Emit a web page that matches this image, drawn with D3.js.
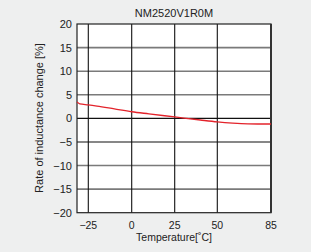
<!DOCTYPE html>
<html>
<head>
<meta charset="utf-8">
<script src="https://cdn.jsdelivr.net/npm/d3@7"></script>
<style>
  body { margin: 0; background: #eeefef; }
  text { font-family: "Liberation Sans", Arial, sans-serif; fill: #222; }
</style>
</head>
<body>
<div id="chart"></div>
<script>
// chart data
var chartTitle = "NM2520V1R0M"
var temps = [-31, -29.5, -25, -20, -10, 0, 10, 25, 40, 50, 60, 70, 85]
var change = [3.5, 3.05, 2.85, 2.6, 2.0, 1.4, 0.95, 0.3, -0.35, -0.75, -1.0, -1.15, -1.2]
var xTicks = [-25, 0, 25, 50, 85]
var xStops = [-31, -25, 0, 25, 50, 85]   // axis is not evenly spaced in the original
var yTicks = [-20, -15, -10, -5, 0, 5, 10, 15, 20]
var grayRows = [15, 10, 5, -10, -15]

var W = 311, H = 252

var svg = d3.select("#chart").append("svg")
    .attr("width", W)
    .attr("height", H)

svg.append("rect")
    .attr("width", W)
    .attr("height", H)
    .attr("fill", "#eeefef")

var x = d3.scaleLinear()
    .domain(xStops)
    .range([77, 88.3, 131.7, 174.7, 217.3, 271])

var y = d3.scaleLinear()
    .domain([-20, 20])
    .range([212.7, 24])

// plot background
svg.append("rect")
    .attr("x", x(-31))
    .attr("y", y(20))
    .attr("width", x(85) - x(-31))
    .attr("height", y(-20) - y(20))
    .attr("fill", "white")

// horizontal grid
svg.append("g")
    .selectAll("line")
    .data(yTicks.filter(d => d > -20 && d < 20))
    .enter()
    .append("line")
    .attr("x1", x(-31))
    .attr("x2", x(85))
    .attr("y1", d => y(d))
    .attr("y2", d => y(d))
    .attr("stroke", d => grayRows.indexOf(d) >= 0 ? "#7a7a7a" : "#111")
    .attr("stroke-width", d => grayRows.indexOf(d) >= 0 ? 1.6 : 1.1)

// vertical grid
svg.append("g")
    .selectAll("line")
    .data(xTicks.filter(d => d < 85))
    .enter()
    .append("line")
    .attr("x1", d => x(d))
    .attr("x2", d => x(d))
    .attr("y1", y(20))
    .attr("y2", y(-20))
    .attr("stroke", "#111")
    .attr("stroke-width", 1.1)

// frame
svg.append("rect")
    .attr("x", x(-31))
    .attr("y", y(20))
    .attr("width", x(85) - x(-31))
    .attr("height", y(-20) - y(20))
    .attr("fill", "none")
    .attr("stroke", "#222")
    .attr("stroke-width", 1.2)

svg.append("line")
    .attr("x1", x(85))
    .attr("x2", x(85))
    .attr("y1", y(20))
    .attr("y2", y(-20))
    .attr("stroke", "#333")
    .attr("stroke-width", 2)

// curve
var pts = temps.map((t, i) => [t, change[i]])
var line = d3.line()
    .x(d => x(d[0]))
    .y(d => y(d[1]))
    .curve(d3.curveMonotoneX)

svg.append("path")
    .datum(pts)
    .attr("d", line)
    .attr("fill", "none")
    .attr("stroke", "#e3232b")
    .attr("stroke-width", 1.3)

// y tick labels
var fmt = d3.format("d")
svg.append("g")
    .selectAll("text")
    .data(yTicks)
    .enter()
    .append("text")
    .attr("x", 72)
    .attr("y", d => y(d) + 4)
    .attr("text-anchor", "end")
    .attr("font-size", 11)
    .text(d => fmt(d))

// x tick labels
svg.append("g")
    .selectAll("text")
    .data(xTicks)
    .enter()
    .append("text")
    .attr("x", d => x(d))
    .attr("y", 229)
    .attr("text-anchor", "middle")
    .attr("font-size", 10.5)
    .text(d => fmt(d))

// titles
svg.append("text")
    .attr("x", 174)
    .attr("y", 16.5)
    .attr("text-anchor", "middle")
    .attr("font-size", 11)
    .text(chartTitle)

svg.append("text")
    .attr("x", 174)
    .attr("y", 241)
    .attr("text-anchor", "middle")
    .attr("font-size", 10.5)
    .text("Temperature[˚C]")

svg.append("text")
    .attr("transform", "translate(43,118) rotate(-90)")
    .attr("text-anchor", "middle")
    .attr("font-size", 11)
    .text("Rate of inductance change [%]")
</script>
</body>
</html>
